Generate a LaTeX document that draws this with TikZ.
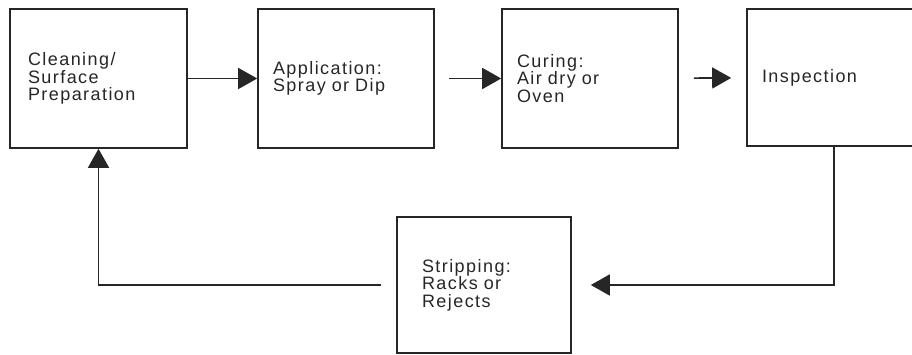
\documentclass[tikz,border=0pt]{standalone}
\usepackage{fontspec}
\setmainfont{Liberation Sans}[LetterSpace=8]
\usetikzlibrary{arrows.meta}
\tikzset{
  box/.style={draw=black!85, line width=1.6pt, rectangle, minimum height=139pt,
    align=left, inner ysep=0pt, text=black!85,
    font=\fontsize{18pt}{17.5pt}\selectfont},
  arr/.style={draw=black!85, line width=1.6pt, -{Triangle[length=19pt,width=21pt]}},
}
\begin{document}
\begin{tikzpicture}[x=1pt,y=-1pt]
\useasboundingbox (0,0) rectangle (912,355);
\node[box, minimum width=177pt, text width=141pt, inner xsep=18pt] (b1) at (98.5,78.5) {Cleaning/\\Surface\\Preparation};
\node[box, minimum width=176pt, text width=146pt, inner xsep=15pt] (b2) at (346,78.5) {Application:\\Spray or Dip};
\node[box, minimum width=176pt, text width=146pt, inner xsep=15pt] (b3) at (590,78.5) {Curing:\\Air dry or\\Oven};
\node[box, minimum width=174pt, text width=144pt, inner xsep=15pt, minimum height=137pt] (b4) at (834,77.5) {Inspection};
\node[box, minimum width=174pt, text width=124pt, inner xsep=25pt, minimum height=136pt] (b5) at (484,285) {Stripping:\\Racks or\\Rejects};
\draw[arr] (b1) -- (b2);
\draw[arr, shorten <=14pt] (b2) -- (b3);
\draw[arr, shorten <=15pt, shorten >=15pt] (b3) -- (b4);
\draw[arr, shorten >=19pt] (b4.south) |- (b5.east);
\draw[arr, shorten <=15pt] (b5.west) -| (b1.south);
\end{tikzpicture}
\end{document}
